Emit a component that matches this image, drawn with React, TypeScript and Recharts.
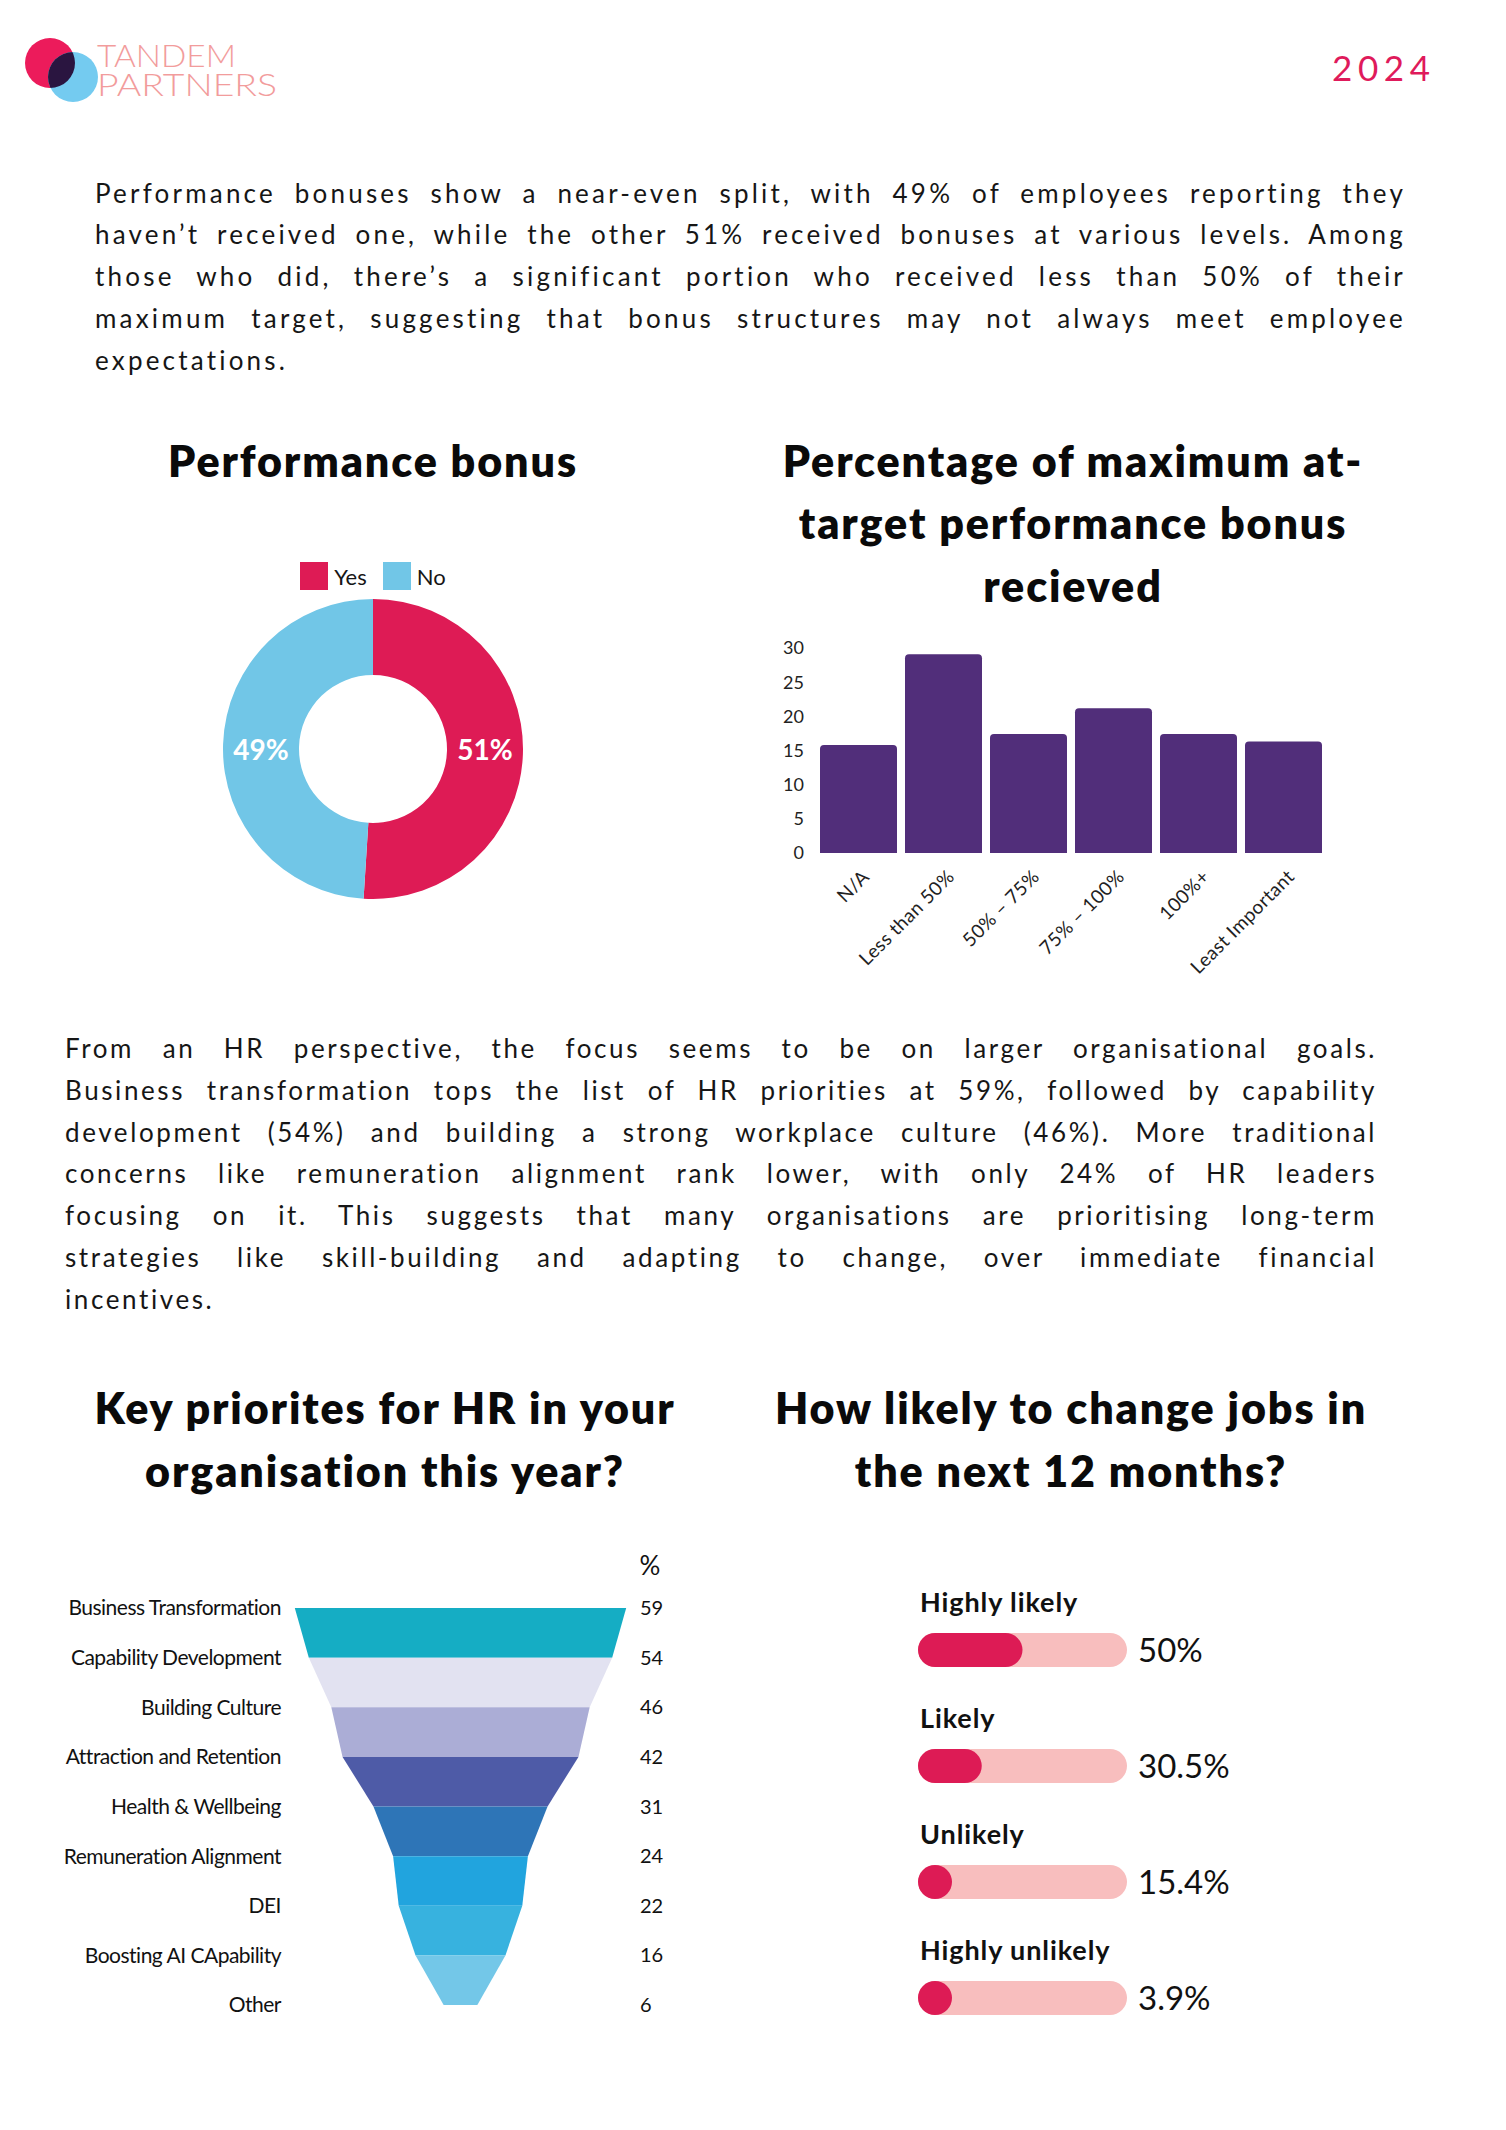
import {
  PieChart,
  Pie,
  Cell,
  Legend,
  BarChart,
  Bar,
  XAxis,
  YAxis,
  AreaChart,
  Area,
  Label,
} from "recharts";

const FONT = "Lato, 'Open Sans', sans-serif";
const INK = "#161616";

// performance bonus donut
const BONUS_LABELS = ["Yes", "No"];
const BONUS_VALUES = [51, 49];
const BONUS_COLORS = ["#DE1B55", "#71C6E7"];

// percentage of max at-target bonus
const TARGET_CATEGORIES = ["N/A", "Less than 50%", "50% – 75%", "75% – 100%", "100%+", "Least Important"];
const TARGET_VALUES = [15.8, 29.1, 17.4, 21.2, 17.4, 16.3];
const TARGET_TICKS = [0, 5, 10, 15, 20, 25, 30];
const TARGET_COLOR = "#512E7A";

// HR priorities funnel
const PRIORITY_NAMES = [
  "Business Transformation",
  "Capability Development",
  "Building Culture",
  "Attraction and Retention",
  "Health & Wellbeing",
  "Remuneration Alignment",
  "DEI",
  "Boosting AI CApability",
  "Other",
];
const PRIORITY_VALUES = [59, 54, 46, 42, 31, 24, 22, 16, 6];
const PRIORITY_COLORS = ["#15ADC4", "#E2E2F1", "#ABADD6", "#4E5BA7", "#2E75B7", "#21A4DE", "#37B2DF", "#73C7E8"];

// job change likelihood
const JOB_LABELS = ["Highly likely", "Likely", "Unlikely", "Highly unlikely"];
const JOB_VALUES = [50, 30.5, 15.4, 3.9];
const JOB_FILL = "#DD1B55";
const JOB_TRACK = "#F8BEBE";

const INTRO_LINES = [
  "Performance bonuses show a near-even split, with 49% of employees reporting they",
  "haven’t received one, while the other 51% received bonuses at various levels. Among",
  "those who did, there’s a significant portion who received less than 50% of their",
  "maximum target, suggesting that bonus structures may not always meet employee",
  "expectations.",
];

const HR_LINES = [
  "From an HR perspective, the focus seems to be on larger organisational goals.",
  "Business transformation tops the list of HR priorities at 59%, followed by capability",
  "development (54%) and building a strong workplace culture (46%). More traditional",
  "concerns like remuneration alignment rank lower, with only 24% of HR leaders",
  "focusing on it. This suggests that many organisations are prioritising long-term",
  "strategies like skill-building and adapting to change, over immediate financial",
  "incentives.",
];

const bonusData = BONUS_LABELS.map((name, i) => ({ name, value: BONUS_VALUES[i] }));
const targetData = TARGET_CATEGORIES.map((name, i) => ({ name, value: TARGET_VALUES[i] }));
const jobData = JOB_LABELS.map((name, i) => ({ name, value: JOB_VALUES[i] }));

// each segment of the funnel spans two neighbouring rows
const priorityData = PRIORITY_NAMES.map((name, i) => {
  const row: Record<string, unknown> = { name, value: PRIORITY_VALUES[i] };
  PRIORITY_COLORS.forEach((_, k) => {
    if (i === k || i === k + 1) row[`seg${k}`] = [-PRIORITY_VALUES[i] / 2, PRIORITY_VALUES[i] / 2];
  });
  return row;
});

const RADIAN = Math.PI / 180;

const Logo = () => (
  <svg style={{ position: "absolute", left: 0, top: 0 }} width={300} height={120}>
    <defs>
      <clipPath id="redClip">
        <circle cx={50} cy={63} r={25} />
      </clipPath>
    </defs>
    <circle cx={50} cy={63} r={25} fill="#EC1B5B" />
    <circle cx={73} cy={77} r={25} fill="#74CBF0" />
    <circle cx={73} cy={77} r={25} fill="#2A1540" clipPath="url(#redClip)" />
    <text x={97} y={67} fontSize={32} fontWeight={300} fill="#F29C9C" textLength={139} lengthAdjust="spacingAndGlyphs">
      TANDEM
    </text>
    <text x={97} y={96} fontSize={32} fontWeight={300} fill="#F29C9C" textLength={180} lengthAdjust="spacingAndGlyphs">
      PARTNERS
    </text>
  </svg>
);

const Paragraph = ({ lines, left, top, width, spacing }: { lines: string[]; left: number; top: number; width: number; spacing: number }) => (
  <div style={{ position: "absolute", left, top, width, fontSize: 26, lineHeight: "41.8px", letterSpacing: spacing, color: INK }}>
    {lines.map((t, i) => (
      <div key={i} style={{ textAlign: "justify", textAlignLast: i === lines.length - 1 ? "left" : "justify" }}>
        {t}
      </div>
    ))}
  </div>
);

const Title = ({ lines, center, top }: { lines: string[]; center: number; top: number }) => (
  <div
    style={{
      position: "absolute",
      left: center - 350,
      top,
      width: 700,
      textAlign: "center",
      fontSize: 43,
      fontWeight: 800,
      lineHeight: "62.5px",
      letterSpacing: 1.9,
      color: "#0a0a0a",
      whiteSpace: "nowrap",
    }}
  >
    {lines.map((l) => (
      <div key={l}>{l}</div>
    ))}
  </div>
);

const BonusLegend = () => (
  <div style={{ display: "flex", justifyContent: "center", gap: 16, paddingTop: 12, fontSize: 22, color: INK }}>
    {BONUS_LABELS.map((l, i) => (
      <span key={l} style={{ display: "flex", alignItems: "center", gap: 6, height: 28 }}>
        <span style={{ width: 28, height: 28, background: BONUS_COLORS[i] }} />
        {l}
      </span>
    ))}
  </div>
);

// labels sit on the horizontal through the centre, half way across the ring
const renderPieLabel = ({ cx, cy, midAngle, innerRadius, outerRadius, value }: any) => {
  const r = (innerRadius + outerRadius) / 2;
  const x = cx + r * Math.cos(-midAngle * RADIAN);
  return (
    <text x={x} y={cy} fill="#fff" textAnchor="middle" dominantBaseline="central" fontSize={28} fontWeight={700}>
      {value}%
    </text>
  );
};

const TargetTick = ({ x, y, payload }: any) => (
  <g transform={`translate(${x + 12},${y + 25})`}>
    <text textAnchor="end" transform="rotate(-45)" fontSize={19} letterSpacing={0.4} fill="#222">
      {payload.value}
    </text>
  </g>
);

const JobNameTick = ({ x, y, payload }: any) => (
  <text x={x + 10} y={y - 38} fontSize={27} fontWeight={700} letterSpacing={0.9} fill="#111">
    {payload.value}
  </text>
);

const PillBar = (props: any) => {
  const { x, y, width, height, fill } = props;
  const r = height / 2;
  return <rect x={x} y={y} width={Math.max(width, height)} height={height} rx={r} ry={r} fill={fill} />;
};

const priorityValue = (name: string) => String(PRIORITY_VALUES[PRIORITY_NAMES.indexOf(name)]);
const jobValue = (name: string) => `${JOB_VALUES[JOB_LABELS.indexOf(name)]}%`;

export default function App() {
  return (
    <div
      style={{
        position: "absolute",
        left: 0,
        top: 0,
        width: 1506,
        height: 2130,
        background: "#fff",
        fontFamily: FONT,
        overflow: "hidden",
      }}
    >
      <Logo />
      <svg style={{ position: "absolute", left: 1300, top: 40 }} width={160} height={60}>
        <text x={32} y={41} fontSize={35} fill="#DF1A5B" textLength={98} lengthAdjust="spacing">
          2024
        </text>
      </svg>

      <Paragraph lines={INTRO_LINES} left={95} top={172.5} width={1311} spacing={3.2} />

      <Title lines={["Performance bonus"]} center={373} top={429.6} />
      <Title lines={["Percentage of maximum at-", "target performance bonus", "recieved"]} center={1073} top={429.6} />

      <div style={{ position: "absolute", left: 163, top: 550 }}>
        <PieChart width={420} height={380} margin={{ top: 0, right: 0, bottom: 0, left: 0 }}>
          <Legend verticalAlign="top" height={40} content={() => <BonusLegend />} />
          <Pie
            data={bonusData}
            dataKey="value"
            cx={210}
            cy={159}
            innerRadius={74}
            outerRadius={150}
            startAngle={90}
            endAngle={-270}
            stroke="none"
            label={renderPieLabel}
            labelLine={false}
            isAnimationActive={false}
          >
            {bonusData.map((_, i) => (
              <Cell key={i} fill={BONUS_COLORS[i]} />
            ))}
          </Pie>
        </PieChart>
      </div>

      <div style={{ position: "absolute", left: 760, top: 620 }}>
        <BarChart width={586} height={405} data={targetData} margin={{ top: 28, right: 20, bottom: 0, left: 0 }}>
          <XAxis
            dataKey="name"
            axisLine={false}
            tickLine={false}
            tickSize={0}
            tickMargin={0}
            height={172}
            interval={0}
            tick={<TargetTick />}
          />
          <YAxis
            domain={[0, 30]}
            ticks={TARGET_TICKS}
            axisLine={false}
            tickLine={false}
            width={56}
            tickMargin={6}
            tick={{ fontSize: 18, fill: "#222" }}
          />
          <Bar dataKey="value" fill={TARGET_COLOR} barSize={77} radius={[4, 4, 0, 0]} isAnimationActive={false} />
        </BarChart>
      </div>

      <Paragraph lines={HR_LINES} left={65} top={1028} width={1312} spacing={2.6} />

      <Title lines={["Key priorites for HR in your", "organisation this year?"]} center={385} top={1377} />
      <Title lines={["How likely to change jobs in", "the next 12 months?"]} center={1071} top={1377} />

      <div style={{ position: "absolute", left: 42, top: 1548 }}>
        <AreaChart
          layout="vertical"
          width={639}
          height={472}
          data={priorityData}
          margin={{ top: 60, right: 10, bottom: 15, left: 0 }}
        >
          <XAxis type="number" domain={[-30, 30]} hide />
          <YAxis
            yAxisId="left"
            type="category"
            dataKey="name"
            scale="point"
            width={250}
            axisLine={false}
            tickLine={false}
            tickMargin={5}
            interval={0}
            tick={{ fontSize: 21, fill: "#111", letterSpacing: -0.5 }}
          />
          <YAxis
            yAxisId="right"
            orientation="right"
            type="category"
            dataKey="name"
            scale="point"
            width={42}
            axisLine={false}
            tickLine={false}
            tickMargin={5}
            interval={0}
            tickFormatter={priorityValue}
            tick={{ fontSize: 20, fill: "#111" }}
          >
            <Label value="%" position="top" offset={33} fontSize={26} fill="#111" />
          </YAxis>
          {PRIORITY_COLORS.map((c, k) => (
            <Area
              key={k}
              yAxisId="left"
              dataKey={`seg${k}`}
              type="linear"
              fill={c}
              fillOpacity={1}
              stroke="none"
              dot={false}
              activeDot={false}
              isAnimationActive={false}
            />
          ))}
        </AreaChart>
      </div>

      <div style={{ position: "absolute", left: 878, top: 1540 }}>
        <BarChart layout="vertical" width={400} height={526} data={jobData} margin={{ top: 52, right: 0, bottom: 10, left: 0 }}>
          <XAxis type="number" domain={[0, 100]} hide />
          <YAxis
            yAxisId="left"
            type="category"
            dataKey="name"
            width={40}
            axisLine={false}
            tickLine={false}
            interval={0}
            tick={<JobNameTick />}
          />
          <YAxis
            yAxisId="right"
            orientation="right"
            type="category"
            dataKey="name"
            width={151}
            axisLine={false}
            tickLine={false}
            tickMargin={5}
            interval={0}
            tickFormatter={jobValue}
            tick={{ fontSize: 33, fill: "#111" }}
          />
          <Bar
            yAxisId="left"
            dataKey="value"
            fill={JOB_FILL}
            barSize={34}
            background={{ fill: JOB_TRACK, radius: 17 }}
            shape={<PillBar />}
            isAnimationActive={false}
          />
        </BarChart>
      </div>
    </div>
  );
}
